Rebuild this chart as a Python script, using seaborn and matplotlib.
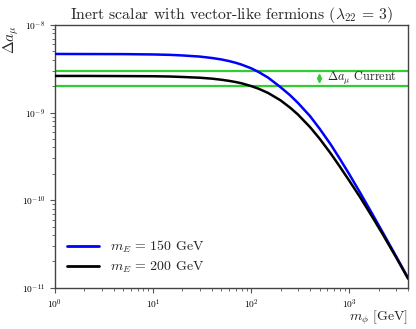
import numpy as np
import pandas as pd
import matplotlib
matplotlib.use("Agg")
import matplotlib.pyplot as plt
import seaborn as sns

# m_phi values [GeV]
m_phi = [1, 2, 5, 10, 15, 20, 30, 40, 50, 60, 70, 80, 100, 120, 150, 200, 250, 300,
         400, 500, 650, 800, 1000, 1300, 1700, 2200, 3000, 4000]
# Delta a_mu (units of 1e-9)
da_150 = [4.67, 4.66, 4.65, 4.61, 4.56, 4.49, 4.36, 4.20, 4.04, 3.87, 3.70, 3.53,
          3.21, 2.90, 2.50, 1.95, 1.579, 1.295, 0.911, 0.656, 0.432, 0.300, 0.1995,
          0.1211, 0.0717, 0.0430, 0.0231, 0.0129]
da_200 = [2.62, 2.62, 2.61, 2.60, 2.58, 2.55, 2.50, 2.44, 2.37, 2.30, 2.23, 2.16,
          2.01, 1.87, 1.67, 1.38, 1.14, 0.954, 0.682, 0.505, 0.341, 0.244, 0.168,
          0.1075, 0.0661, 0.0409, 0.0225, 0.01268]
labels = [r"$m_E\,=\,150$ GeV", r"$m_E\,=\,200$ GeV"]
band = [2.01e-9, 2.97e-9]

df = pd.DataFrame({
    "m": m_phi * 2,
    "da": [v * 1e-9 for v in da_150] + [v * 1e-9 for v in da_200],
    "case": [labels[0]] * len(m_phi) + [labels[1]] * len(m_phi),
})

sns.set_style("ticks")
plt.rcParams["mathtext.fontset"] = "cm"
plt.rcParams["font.family"] = ["cmr10", "DejaVu Serif"]
plt.rcParams["axes.formatter.use_mathtext"] = True

fig = plt.figure(figsize=(4.16, 3.29), dpi=100)
ax = fig.add_axes([0.132, 0.1255, 0.849, 0.7985])

green = "#33cc33"
for y in band:
    ax.axhline(y, color=green, lw=1.6, zorder=1)

sns.lineplot(data=df, x="m", y="da", hue="case",
             palette={labels[0]: "#0000ff", labels[1]: "#000000"},
             lw=1.8, ax=ax, zorder=3, sort=True)

ax.set_xscale("log")
ax.set_yscale("log")
ax.set_xlim(1, 4000)
ax.set_ylim(1e-11, 1e-8)

ax.annotate("", xy=(500, 2.82e-9), xytext=(500, 2.12e-9),
            arrowprops=dict(arrowstyle="<->", color=green, lw=1.3,
                            shrinkA=0, shrinkB=0, mutation_scale=6))
ax.text(590, 2.45e-9, r"$\Delta a_\mu$ Current", fontsize=8.8,
        va="center", ha="left")

ax.set_title(r"Inert scalar with vector-like fermions ($\lambda_{22}\,=\,3$)",
             fontsize=11.3, pad=4)
ax.set_xlabel(r"$m_\phi$ [GeV]", fontsize=10, ha="right", va="top")
ax.xaxis.set_label_coords(1.0, -0.08)
ax.set_ylabel(r"$\Delta a_\mu$", fontsize=11, ha="right", va="bottom")
ax.yaxis.set_label_coords(-0.095, 1.0)

ax.tick_params(axis="both", which="major", labelsize=6.8, length=3.5,
               width=0.8, colors="#555555", labelcolor="black")
ax.tick_params(axis="both", which="minor", length=2, width=0.6,
               colors="#555555")
for s in ax.spines.values():
    s.set_color("#444444")
    s.set_linewidth(1.0)

leg = ax.legend(loc="lower left", frameon=False, fontsize=10,
                handlelength=2.3, borderaxespad=0.5, labelspacing=0.35,
                title=None)
for line in leg.get_lines():
    line.set_linewidth(2.0)

fig.savefig("out.png", dpi=100)
